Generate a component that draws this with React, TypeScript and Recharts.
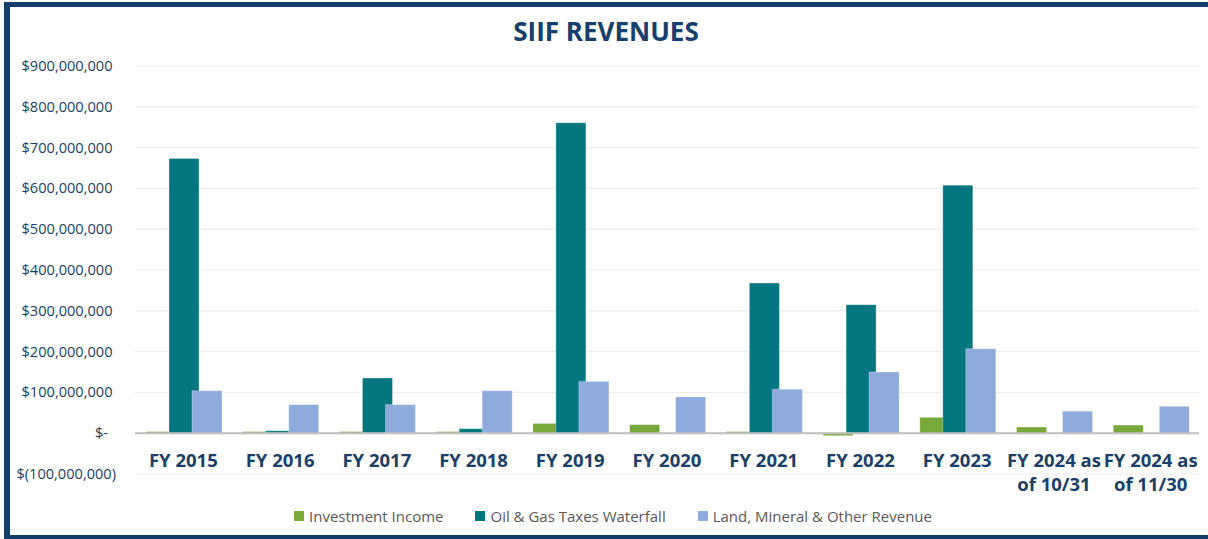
import React from 'react'
import {
  BarChart,
  Bar,
  XAxis,
  YAxis,
  CartesianGrid,
  ReferenceLine,
  Legend,
} from 'recharts'

const categories = [
  'FY 2015',
  'FY 2016',
  'FY 2017',
  'FY 2018',
  'FY 2019',
  'FY 2020',
  'FY 2021',
  'FY 2022',
  'FY 2023',
  'FY 2024 as of 10/31',
  'FY 2024 as of 11/30',
]

// values in millions of dollars
const investmentIncome = [4, 4, 4, 4, 24, 21, 4, -6, 39, 15, 20]
const oilGasWaterfall = [673, 6, 135, 11, 761, 0, 368, 315, 608, 0, 0]
const landMineralOther = [104, 70, 70, 104, 127, 89, 108, 150, 207, 54, 66]

const seriesNames = ['Investment Income', 'Oil & Gas Taxes Waterfall', 'Land, Mineral & Other Revenue']

const yTicks = [-100, 0, 100, 200, 300, 400, 500, 600, 700, 800, 900].map((v) => v * 1e6)

const data = categories.map((name, i) => ({
  name,
  investment: investmentIncome[i] * 1e6,
  oilGas: oilGasWaterfall[i] * 1e6,
  land: landMineralOther[i] * 1e6,
}))

const FONT = '"Open Sans", "Noto Sans", sans-serif'
const NAVY = '#1B3F69'

function formatMoney(v: number) {
  if (v === 0) return '$-'
  const s = Math.abs(v).toLocaleString('en-US')
  return v < 0 ? `$(${s})` : `$${s}`
}

function YTick({ x, y, payload }: any) {
  const v = payload.value
  const shift = v < 0 ? 0 : v === 0 ? -8 : -3.5
  return (
    <text x={x + shift} y={y} dy={5} textAnchor="end" fontSize={14.6} fill={NAVY} fontFamily={FONT}>
      {formatMoney(v)}
    </text>
  )
}

function XTick({ x, y, payload }: any) {
  const label: string = payload.value
  const idx = label.indexOf(' of ')
  const lines = idx > 0 ? [label.slice(0, idx), label.slice(idx + 1)] : [label]
  return (
    <text x={x} y={y} textAnchor="middle" fontSize={18.5} fontWeight={700} fill={NAVY} fontFamily={FONT}>
      {lines.map((l, i) => (
        <tspan key={i} x={x} dy={i === 0 ? -7 : 24}>
          {l}
        </tspan>
      ))}
    </text>
  )
}

function LegendContent({ payload }: any) {
  const items = [...(payload || [])].sort(
    (a: any, b: any) => seriesNames.indexOf(a.value) - seriesNames.indexOf(b.value)
  )
  return (
    <div style={{ display: 'flex', justifyContent: 'center', gap: 32, fontFamily: FONT }}>
      {items.map((entry: any, i: number) => (
        <div key={i} style={{ display: 'flex', alignItems: 'center', gap: 5 }}>
          <div style={{ width: 10, height: 10, background: entry.color }} />
          <span style={{ fontSize: 15, color: '#595959', lineHeight: '22px' }}>{entry.value}</span>
        </div>
      ))}
    </div>
  )
}

export default function App() {
  return (
    <div style={{ position: 'absolute', left: 0, top: 0, width: 1208, height: 539, background: '#fff' }}>
      <div
        style={{
          position: 'absolute',
          left: 4,
          top: 2,
          width: 1204,
          height: 537,
          boxSizing: 'border-box',
          borderLeft: '6px solid #123F69',
          borderTop: '5px solid #123F69',
          borderBottom: '4px solid #123F69',
        }}
      />
      <div
        style={{
          position: 'absolute',
          left: 0,
          top: 18,
          width: 1212,
          textAlign: 'center',
          fontFamily: FONT,
          fontSize: 26,
          lineHeight: '26px',
          fontWeight: 700,
          color: '#15406B',
        }}
      >
        SIIF REVENUES
      </div>
      <div style={{ position: 'absolute', left: 0, top: 0 }}>
        <BarChart
          width={1208}
          height={539}
          data={data}
          margin={{ top: 66, right: 9, bottom: 35, left: 0 }}
          barCategoryGap={11}
          barGap={-7}
        >
          <CartesianGrid vertical={false} stroke="#EDEDED" strokeWidth={1.2} />
          <XAxis
            dataKey="name"
            axisLine={false}
            tickLine={false}
            tickSize={0}
            tickMargin={0}
            height={30}
            interval={0}
            tick={<XTick />}
          />
          <YAxis
            type="number"
            domain={[-100e6, 900e6]}
            ticks={yTicks}
            width={135}
            axisLine={false}
            tickLine={false}
            tickSize={0}
            tickMargin={19}
            interval={0}
            tick={<YTick />}
          />
          <ReferenceLine y={0} stroke="#BFBFBF" strokeWidth={2} />
          <Bar
            dataKey="investment"
            name={seriesNames[0]}
            fill="#78A83A"
            stroke="#ffffff"
            strokeOpacity={0.3}
            isAnimationActive={false}
          />
          <Bar
            dataKey="oilGas"
            name={seriesNames[1]}
            fill="#047680"
            stroke="#ffffff"
            strokeOpacity={0.3}
            isAnimationActive={false}
          />
          <Bar
            dataKey="land"
            name={seriesNames[2]}
            fill="#8FAADC"
            stroke="#ffffff"
            strokeOpacity={0.3}
            isAnimationActive={false}
          />
          <Legend
            layout="horizontal"
            verticalAlign="middle"
            align="center"
            content={<LegendContent />}
            wrapperStyle={{ top: 505, left: 9, width: 1208 }}
          />
        </BarChart>
      </div>
    </div>
  )
}
